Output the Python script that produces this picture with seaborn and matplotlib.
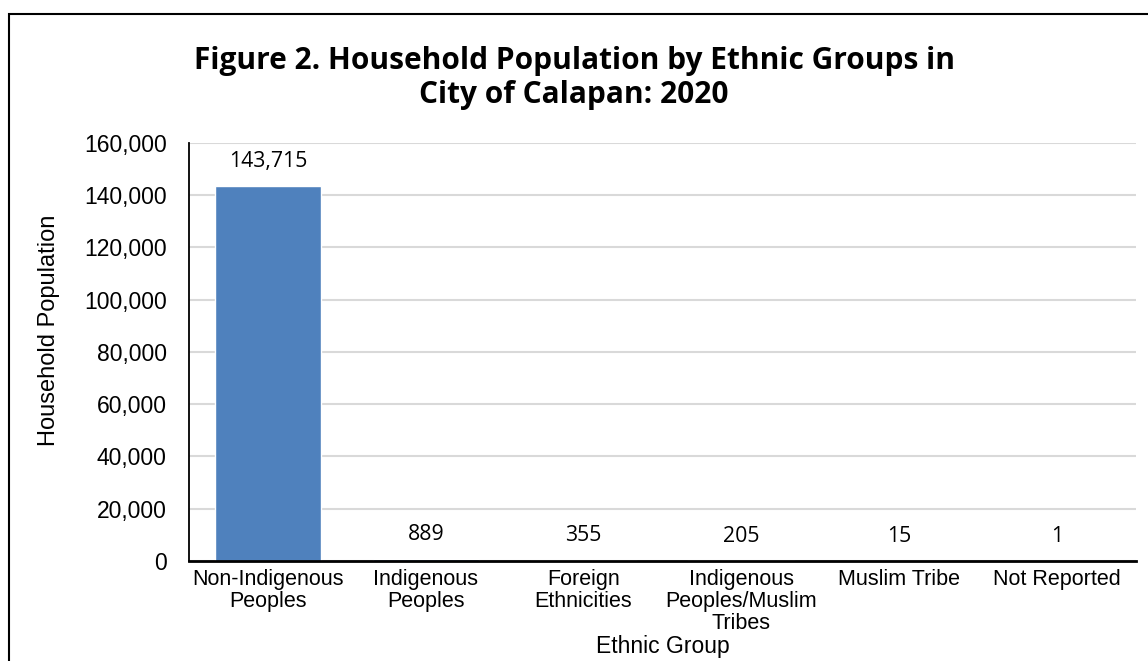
import pandas as pd
import seaborn as sns
import matplotlib.pyplot as plt
from matplotlib.patches import Rectangle
from matplotlib.ticker import FuncFormatter

# values
groups = [
    "Non-Indigenous\nPeoples",
    "Indigenous\nPeoples",
    "Foreign\nEthnicities",
    "Indigenous\nPeoples/Muslim\nTribes",
    "Muslim Tribe",
    "Not Reported",
]
population = [143715, 889, 355, 205, 15, 1]
y_ticks = [0, 20000, 40000, 60000, 80000, 100000, 120000, 140000, 160000]

df = pd.DataFrame({"group": groups, "population": population})

sns.set_theme(style="white")
plt.rcParams["font.family"] = ["Liberation Sans", "DejaVu Sans"]

fig = plt.figure(figsize=(11.48, 6.61), dpi=100)
ax = fig.add_axes([0.1646, 0.1513, 0.8249, 0.6324])

sns.barplot(data=df, x="group", y="population", color="#4F81BD",
            saturation=1, width=0.67, ax=ax)

ax.set_ylim(0, 160000)
ax.set_yticks(y_ticks)
ax.yaxis.set_major_formatter(FuncFormatter(lambda v, p: f"{v:,.0f}"))
ax.grid(axis="y", color="#D9D9D9", linewidth=1.5)
ax.set_axisbelow(True)

for side in ["top", "right"]:
    ax.spines[side].set_visible(False)
ax.spines["left"].set_color("black")
ax.spines["left"].set_linewidth(1.3)
ax.spines["bottom"].set_color("black")
ax.spines["bottom"].set_linewidth(2)

ax.tick_params(axis="y", length=0, pad=16, labelsize=16.5, labelcolor="black")
ax.tick_params(axis="x", length=0, pad=6, labelsize=15.5, labelcolor="black")
for lbl in ax.get_xticklabels():
    lbl.set_linespacing(1.05)

ax.bar_label(ax.containers[0], labels=[f"{v:,}" for v in population],
             padding=10, fontsize=15.3, family="Open Sans", color="black")

ax.set_ylabel("Household Population", fontsize=17, color="black")
ax.yaxis.set_label_coords(-0.136, 0.553)

fig.text(0.5, 0.882, "Figure 2. Household Population by Ethnic Groups in\nCity of Calapan: 2020",
         ha="center", va="center", fontsize=21.5, fontweight="bold",
         family="Open Sans", linespacing=1.2, color="black")

# x title goes just under the lowest tick label, near the bottom edge
ax.set_xlabel("Ethnic Group", fontsize=16.5, color="black")
fig.canvas.draw()
renderer = fig.canvas.get_renderer()
lowest = min(t.get_window_extent(renderer).y0 for t in ax.get_xticklabels())
top_px = lowest - 1
ax.xaxis.set_label_coords(0.5, ax.transAxes.inverted().transform((0, top_px))[1])

fig.patches.append(Rectangle((9 / 1148, -0.2), 1.2, 0.2 + 1 - 14 / 661,
                             transform=fig.transFigure, fill=False,
                             edgecolor="black", linewidth=1.5))

fig.savefig("out.png", dpi=100)
